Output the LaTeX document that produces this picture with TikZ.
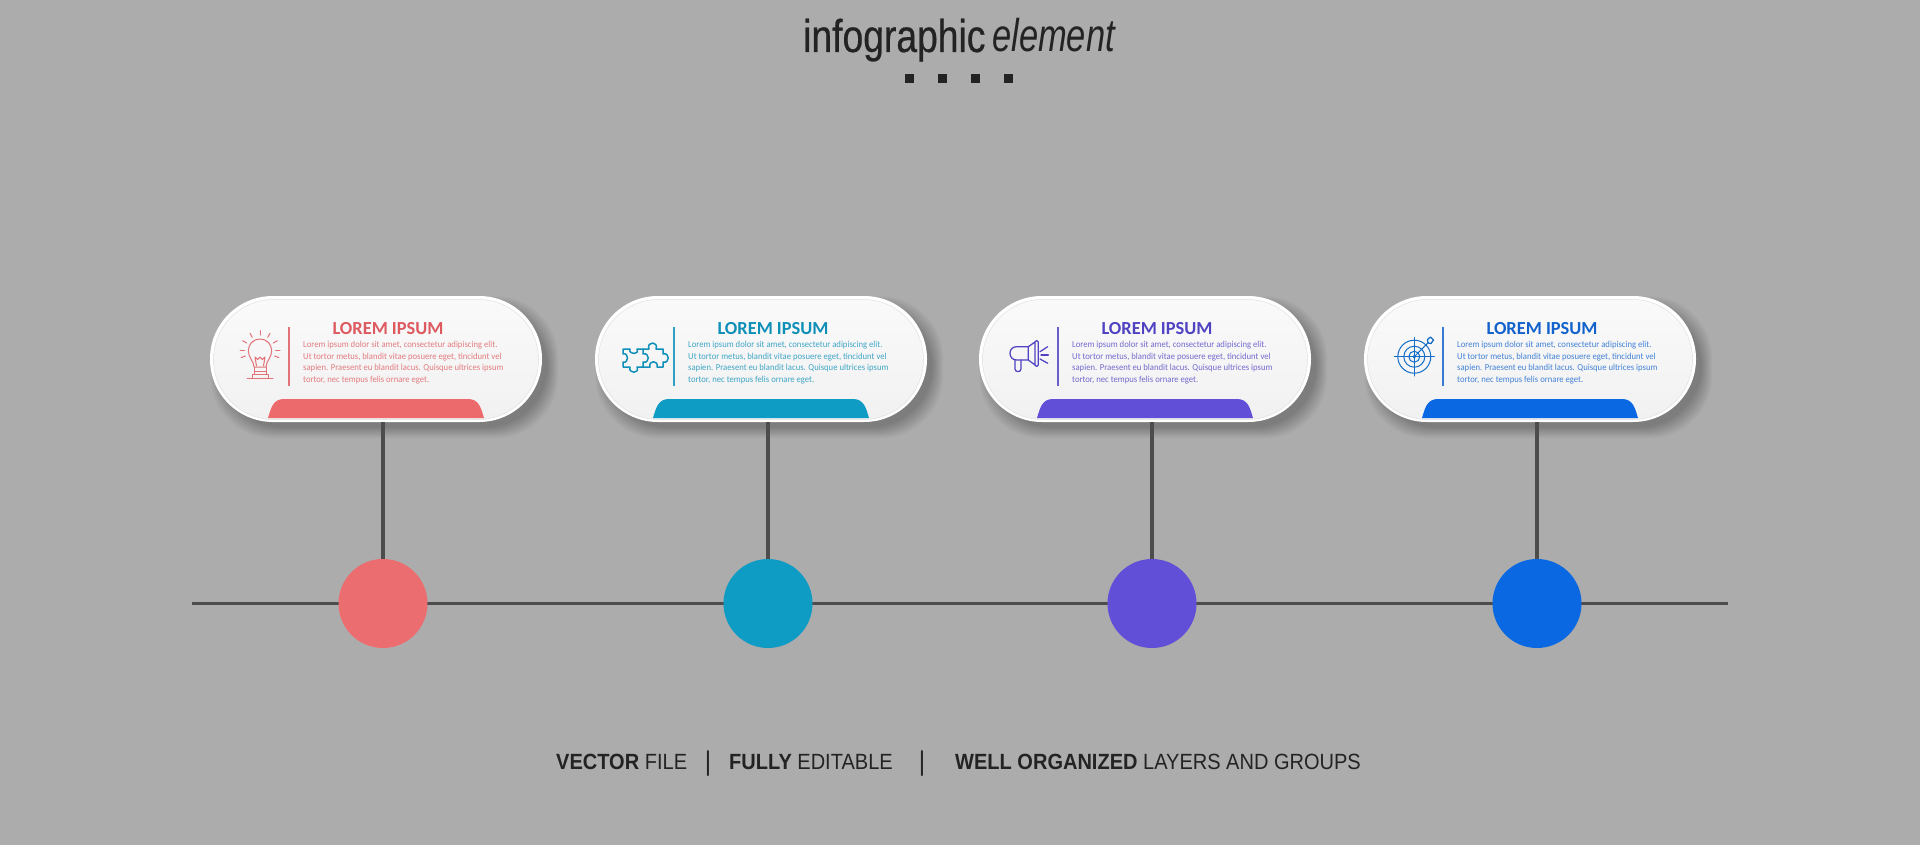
\documentclass[tikz,border=0pt]{standalone}
\usepackage{fontspec}
\setmainfont{Carlito}
\newfontfamily\bodyf[FakeStretch=0.95]{Carlito}
\newfontfamily\headf[FakeStretch=0.81,FakeBold=0.5]{Liberation Sans}
\newfontfamily\headi[FakeStretch=0.75]{Liberation Sans Italic}
\newfontfamily\footf[FakeStretch=0.91]{Liberation Sans}
\usetikzlibrary{calc}
\definecolor{bgc}{HTML}{ACACAC}
\definecolor{linec}{HTML}{4C4C4C}
\definecolor{inkc}{HTML}{232323}
\definecolor{cA}{HTML}{EC6A6C}\definecolor{tA}{HTML}{DC5A60}
\definecolor{cB}{HTML}{0F9CC4}\definecolor{tB}{HTML}{0E8FB8}
\definecolor{cC}{HTML}{614FD8}\definecolor{tC}{HTML}{4F43C2}
\definecolor{cD}{HTML}{0A68E2}\definecolor{tD}{HTML}{1262CC}
\tikzset{
  x=1pt,y=-1pt,
  cardbox/.style={draw=none,fill=white,rounded corners=62.9pt,minimum width=332pt,minimum height=126pt,inner sep=0pt},
  cardface/.style={rounded corners=60pt,minimum width=325pt,minimum height=120pt,inner sep=0pt,top color=white!98!black,bottom color=white!94.5!black,draw=white!88!black,line width=.5pt},
  dotnode/.style={circle,minimum size=89pt,inner sep=0pt,draw=none},
  conn/.style={draw=linec,line width=3.4pt},
  titletext/.style={font=\fontsize{18.4}{20}\selectfont\bfseries,inner sep=0pt,anchor=center},
  bodytext/.style={font=\bodyf\fontsize{9.1}{11.7}\selectfont,inner sep=0pt,anchor=north west,align=left},
  foottext/.style={font=\footf\fontsize{22}{26}\selectfont,text=inkc,inner sep=0pt,anchor=base west},
  footbar/.style={font=\footf\fontsize{27}{30}\selectfont,text=inkc,inner sep=0pt,anchor=center},
  iconline/.style={line width=1pt,line cap=round,line join=round,fill=none},
}
\newcommand{\cardat}[4]{% name, left, colour key, stem x
  \foreach \k in {1,...,24}{
    \fill[black,opacity=.008,rounded corners=62pt] ({#2+\k*.5-.5},{296+\k*.5-.5}) rectangle ({#2+332+17-\k*.5},{422+17-\k*.5});
  }
  \node[cardbox] (#1) at ({#2+166},359) {};
  \node[cardface] (#1f) at ({#2+166},359.5) {};
  \fill[c#3] ({#2+58},418) .. controls ({#2+61},408) and ({#2+63},399) .. ({#2+74},399) -- ({#2+258},399) .. controls ({#2+269},399) and ({#2+271},408) .. ({#2+274},418) -- cycle;
  \node[titletext,text=t#3] (#1t) at ({#2+178},328.5) {LOREM IPSUM};
  \node[bodytext,text=t#3!80!white] (#1b) at ({#2+93},341) {Lorem ipsum dolor sit amet, consectetur adipiscing elit.\\Ut tortor metus, blandit vitae posuere eget, tincidunt vel\\sapien. Praesent eu blandit lacus. Quisque ultrices ipsum\\tortor, nec tempus felis ornare eget.};
  \draw[t#3!85!white,line width=1.1pt] ({#2+79},327) -- ({#2+79},386);
  \coordinate (#1s) at (#4,422);
}
\begin{document}
\begin{tikzpicture}
\useasboundingbox (0,0) rectangle (1920,845);
\fill[bgc] (0,0) rectangle (1920,845);
% title
\node[font=\headf\fontsize{46}{50}\selectfont,text=inkc,inner sep=0pt,anchor=base west] (head1) at (803,52) {infographic};
\node[font=\headi\fontsize{46}{50}\selectfont,text=inkc,inner sep=0pt,anchor=base west] (head2) at (992,52) {element};
\foreach \p/\n in {909/a,942/b,975/c,1008/d}{\node[fill=inkc,minimum size=9pt,inner sep=0pt] (sq\n) at (\p,79) {};}
% timeline and dots
\coordinate (tlL) at (192,603.5);\coordinate (tlR) at (1728,603.5);
\draw[conn] (tlL) -- (tlR);
\node[dotnode,fill=cA!98!white] (d1) at (383,603.5) {};
\node[dotnode,fill=cB] (d2) at (768,603.5) {};
\node[dotnode,fill=cC] (d3) at (1152,603.5) {};
\node[dotnode,fill=cD] (d4) at (1537,603.5) {};
% cards
\cardat{n1}{210}{A}{383}
\cardat{n2}{595}{B}{768}
\cardat{n3}{979}{C}{1152}
\cardat{n4}{1364}{D}{1537}
\draw[conn] (n1s) -- (d1);
\draw[conn] (n2s) -- (d2);
\draw[conn] (n3s) -- (d3);
\draw[conn] (n4s) -- (d4);
% bulb
\begin{scope}[iconline,draw=tA!85!white]
  \draw (254,367) .. controls (254,361) and (248.3,358) .. (248.3,350.7) .. controls (248.3,344) and (253.5,339) .. (260,339) .. controls (266.5,339) and (271.7,344) .. (271.7,350.7) .. controls (271.7,358) and (266,361) .. (266,367) -- cycle;
  \draw (256.5,366) -- (255,357) -- (257.7,359.5) -- (260,357) -- (262.3,359.5) -- (265,357) -- (263.5,366);
  \draw (254,367) -- (254,371) -- (266,371) -- (266,367);
  \draw (252,378) -- (252,374.5) -- (268,374.5) -- (268,378);
  \draw (254,371) -- (254,374.5) (266,371) -- (266,374.5);
  \draw (247,378.5) -- (273,378.5);
  \foreach \a in {20,0,-30,-60,-90,-120,-150,180,160}{
    \draw ({260+15.5*cos(\a)},{350.7+15.5*sin(\a)}) -- ({260+20*cos(\a)},{350.7+20*sin(\a)});
  }
\end{scope}
% puzzle
\begin{scope}[iconline,draw=tB,line width=1.5pt]
  \draw (623,349) -- (630,349) .. controls (628,355) and (640,355) .. (637,349) -- (643,349) -- (643,354) .. controls (650,352) and (650,364) .. (643,362) -- (643,367) -- (637,367) .. controls (640,374) and (628,374) .. (630,367) -- (623,367) -- (623,362) .. controls (629,364) and (629,352) .. (623,354) -- cycle;
  \draw (643,349) -- (649,349) .. controls (646,341) and (659,341) .. (656,349) -- (663,349) -- (663,354) .. controls (670,352) and (670,364) .. (663,362) -- (663,367) -- (657,367) .. controls (659,360) and (648,360) .. (650,367) -- (643,367);
\end{scope}
% megaphone
\begin{scope}[iconline,draw=tC,line width=1.25pt]
  \draw (1028.3,346.7) -- (1016.7,346.7) .. controls (1012.5,346.7) and (1010,349.5) .. (1010,353.3) .. controls (1010,357) and (1012.5,360) .. (1016.7,360) -- (1028.3,360) -- cycle;
  \draw (1028.3,346.7) -- (1035,342) -- (1035,365) -- (1028.3,360);
  \draw (1035,342) .. controls (1035,340) and (1038.3,340) .. (1038.3,342) -- (1038.3,365) .. controls (1038.3,367) and (1035,367) .. (1035,365);
  \draw (1015,360) -- (1015,369) .. controls (1015,372.5) and (1021,372.5) .. (1021,369) -- (1021,360);
  \draw (1040,351.7) -- (1047.7,346.7);
  \draw (1041,355) -- (1048.3,355);
  \draw (1040,359) -- (1047.7,363.3);
\end{scope}
% target
\begin{scope}[iconline,draw=tD!75!tB]
  \coordinate (tg) at (1414.3,356.7);
  \draw (tg) circle[radius=16.5];
  \draw (tg) circle[radius=10.5];
  \draw (tg) circle[radius=5.5];
  \draw (tg) circle[radius=1.2];
  \draw (1394.3,356.7) -- (1434.3,356.7);
  \draw (1414.3,337.5) -- (1414.3,376);
  \draw (tg) -- (1428.3,342.5);
  \draw[line width=1.3pt] (1428,343) -- (1427.5,339.5) -- (1430.5,337) -- (1433.5,340) -- (1431,343.5) -- cycle;
\end{scope}
% footer
\node[foottext] (f1) at (556,769) {\bfseries VECTOR\mdseries{} FILE};
\node[footbar] (fb1) at (708,764) {|};
\node[foottext] (f2) at (729,769) {\bfseries FULLY\mdseries{} EDITABLE};
\node[footbar] (fb2) at (922,764) {|};
\node[foottext] (f3) at (955,769) {\bfseries WELL ORGANIZED\mdseries{} LAYERS AND GROUPS};
\end{tikzpicture}
\end{document}
